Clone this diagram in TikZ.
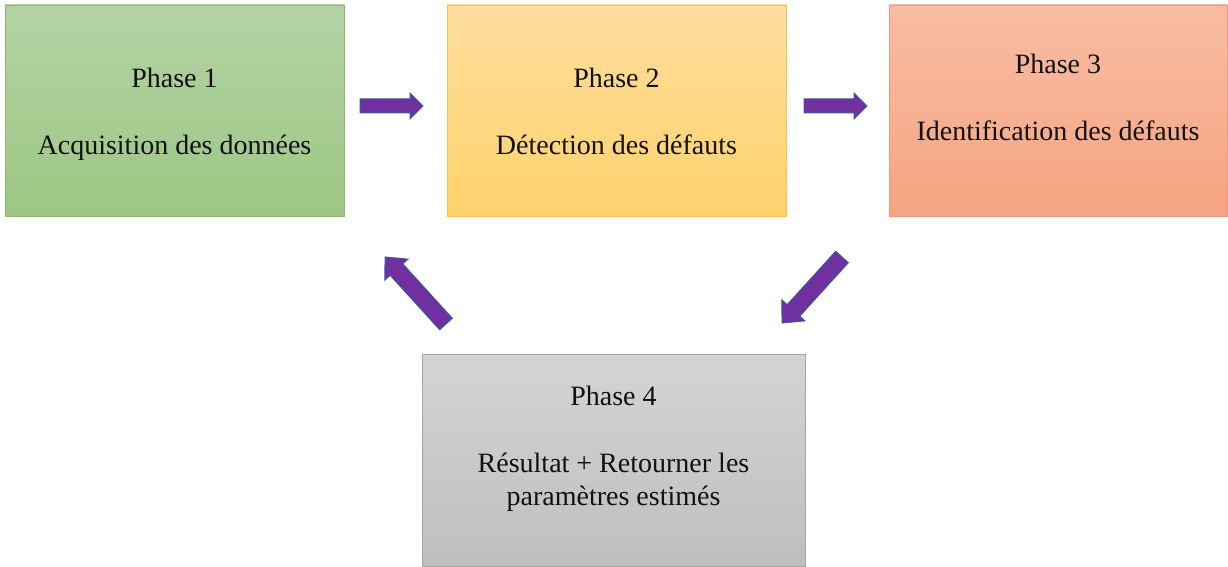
\documentclass[tikz,border=0pt]{standalone}
\usepackage{fontspec}
\setmainfont{Liberation Serif}
\usetikzlibrary{calc}
\definecolor{gA}{HTML}{B4D3A4}\definecolor{gB}{HTML}{9CC784}\definecolor{gL}{HTML}{8DBA72}
\definecolor{oA}{HTML}{FFDE9E}\definecolor{oB}{HTML}{FFD26C}\definecolor{oL}{HTML}{F4C24E}
\definecolor{rA}{HTML}{F8BCA4}\definecolor{rB}{HTML}{F5A480}\definecolor{rL}{HTML}{EE9A78}
\definecolor{sA}{HTML}{D4D4D4}\definecolor{sB}{HTML}{BEBEBE}\definecolor{sL}{HTML}{A5A5A5}
\definecolor{arrF}{HTML}{7030A0}\definecolor{arrL}{HTML}{3A5A9C}
\definecolor{txt}{HTML}{111111}
\tikzset{
  phasebox/.style={rectangle, inner sep=0pt, line width=0.9pt},
  phasetext/.style={align=center, text=txt, inner sep=0pt,
    font=\fontsize{28pt}{33.5pt}\selectfont},
  fatarrow/.style={fill=arrF, draw=arrL, line width=1pt, line join=miter}
}
% \blockarrow{tail}{tip}{shaft half}{head half}{head length}
\newcommand{\blockarrow}[5]{%
  \coordinate (hb) at ($(#2)!#5!(#1)$);
  \path[fatarrow] ($(#1)!#3!90:(#2)$) -- ($(hb)!#3!-90:(#1)$) -- ($(hb)!#4!-90:(#1)$)
    -- (#2) -- ($(hb)!#4!90:(#1)$) -- ($(hb)!#3!90:(#1)$) -- ($(#1)!#3!-90:(#2)$) -- cycle;}
\begin{document}
\begin{tikzpicture}[x=1pt,y=-1pt]
\useasboundingbox (0,0) rectangle (1228,567);
\node[phasebox, draw=gL, top color=gA, bottom color=gB, minimum width=339pt, minimum height=211pt] (p1) at (174.5,110.5) {};
\node[phasebox, draw=oL, top color=oA, bottom color=oB, minimum width=339pt, minimum height=211pt] (p2) at (616.5,110.5) {};
\node[phasebox, draw=rL, top color=rA, bottom color=rB, minimum width=338pt, minimum height=211pt] (p3) at (1058,110.5) {};
\node[phasebox, draw=sL, top color=sA, bottom color=sB, minimum width=383pt, minimum height=212pt] (p4) at (613.5,460) {};
\node[phasetext] (t1) at (174.5,114.5) {Phase 1\\[33.5pt]Acquisition des données};
\node[phasetext] (t2) at (616.5,111.5) {Phase 2\\[33.5pt]Détection des défauts};
\node[phasetext] (t3) at (1058,97) {Phase 3\\[33.5pt]Identification des défauts};
\node[phasetext] (t4) at (613.5,449) {Phase 4\\[33.5pt]Résultat + Retourner les\\paramètres estimés};
\coordinate (a1s) at (360,106); \coordinate (a1e) at (423,106);
\coordinate (a2s) at (804,106); \coordinate (a2e) at (867,106);
\coordinate (a3s) at (842,257); \coordinate (a3e) at (782,323);
\coordinate (a4s) at (446,324); \coordinate (a4e) at (385,257);
\blockarrow{a1s}{a1e}{7pt}{13pt}{13pt}
\blockarrow{a2s}{a2e}{7pt}{13pt}{13pt}
\blockarrow{a3s}{a3e}{8.5pt}{15.5pt}{17pt}
\blockarrow{a4s}{a4e}{8.5pt}{15.5pt}{17pt}
\end{tikzpicture}
\end{document}
